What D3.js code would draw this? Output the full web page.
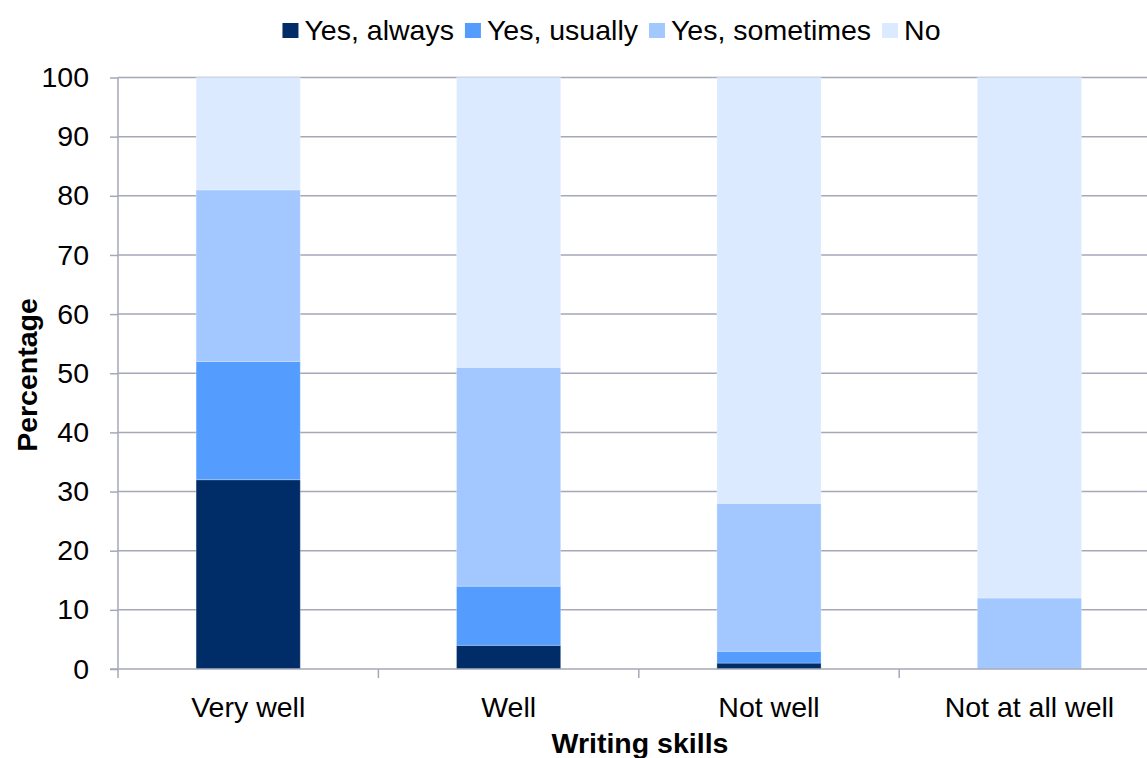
<!DOCTYPE html>
<html><head><meta charset="utf-8">
<script src="https://cdn.jsdelivr.net/npm/d3@7"></script>
<style>body{margin:0;background:#fff}svg{display:block;font-family:"Liberation Sans",Arial,sans-serif}</style>
</head><body>
<svg id="c" width="1147" height="758"></svg>
<script>
const categories = ["Very well", "Well", "Not well", "Not at all well"];
const seriesNames = ["Yes, always", "Yes, usually", "Yes, sometimes", "No"];
const yesAlways = [32, 4, 1, 0];
const yesUsually = [20, 10, 2, 0];
const yesSometimes = [29, 37, 25, 12];
const no = [19, 49, 72, 88];
const yTicks = [0, 10, 20, 30, 40, 50, 60, 70, 80, 90, 100];
const colors = ["#002D68", "#559CFF", "#A3C8FF", "#DCEAFF"];

const FS = 28.5;
const svg = d3.select("#c");
const pL = 118, pR = 118 + 4 * 260.4, pT = 77.5, pB = 669;
const x = d3.scaleBand().domain(categories).range([pL, pR]).paddingInner(0.6).paddingOuter(0.3);
const xb = d3.scaleBand().domain(categories).range([pL, pR]);
const y = d3.scaleLinear().domain([0, 100]).range([pB, pT]);

const rows = categories.map((c, i) => ({cat: c, "Yes, always": yesAlways[i], "Yes, usually": yesUsually[i], "Yes, sometimes": yesSometimes[i], "No": no[i]}));
const stacked = d3.stack().keys(seriesNames)(rows);

// gridlines
svg.append("g").selectAll("line").data(yTicks.filter(d => d > 0)).join("line")
  .attr("x1", pL).attr("x2", pR).attr("y1", d => y(d)).attr("y2", d => y(d))
  .attr("stroke", "#A5A8B8").attr("stroke-width", 1.5);

// bars
svg.append("g").selectAll("g").data(stacked).join("g")
  .attr("fill", (d, i) => colors[i])
  .selectAll("rect").data(d => d).join("rect")
  .attr("x", d => x(d.data.cat)).attr("width", x.bandwidth())
  .attr("y", d => y(d[1])).attr("height", d => y(d[0]) - y(d[1]))
  .attr("stroke", "rgba(255,255,255,0.25)").attr("stroke-width", 1);

// y axis
const yAxis = svg.append("g").attr("transform", `translate(${pL},0)`)
  .call(d3.axisLeft(y).tickValues(yTicks).tickSize(8).tickPadding(21));
yAxis.select(".domain").attr("stroke", "#A5A8B8").attr("stroke-width", 1.5).attr("d", `M0,${pT}V${pB}`);
yAxis.selectAll(".tick line").attr("stroke", "#A5A8B8").attr("stroke-width", 1.5);
yAxis.selectAll(".tick text").attr("font-size", FS).attr("fill", "#000").attr("font-family", "Liberation Sans, Arial, sans-serif");

// x axis
const xAxis = svg.append("g").attr("transform", `translate(0,${pB})`)
  .call(d3.axisBottom(xb).tickSize(0).tickPadding(22));
xAxis.select(".domain").attr("stroke", "#A5A8B8").attr("stroke-width", 1.5).attr("d", `M${pL - 8},0H${pR}`);
xAxis.selectAll(".tick text").attr("font-size", FS).attr("fill", "#000").attr("font-family", "Liberation Sans, Arial, sans-serif")
  .attr("dy", null).attr("y", 48);
svg.append("g").selectAll("line").data(d3.range(categories.length + 1)).join("line")
  .attr("x1", i => pL + i * xb.step()).attr("x2", i => pL + i * xb.step())
  .attr("y1", pB).attr("y2", pB + 9).attr("stroke", "#A5A8B8").attr("stroke-width", 1.5);

// axis titles
svg.append("text").attr("x", 640).attr("y", 753).attr("text-anchor", "middle")
  .attr("font-size", FS).attr("font-weight", "bold").text("Writing skills");
svg.append("text").attr("transform", "translate(37,375) rotate(-90)").attr("text-anchor", "middle")
  .attr("font-size", FS).attr("font-weight", "bold").text("Percentage");

// legend
const legend = svg.append("g");
let cx = 0;
seriesNames.forEach((s, i) => {
  const g = legend.append("g").attr("transform", `translate(${cx},0)`);
  g.append("rect").attr("x", 0).attr("y", 23).attr("width", 16).attr("height", 15).attr("fill", colors[i]);
  const t = g.append("text").attr("x", 22).attr("y", 39.5).attr("font-size", FS).text(s);
  cx += 22 + t.node().getComputedTextLength() + 11;
});
const total = cx - 11;
legend.attr("transform", `translate(${611.5 - total / 2},0)`);
</script>
</body></html>
